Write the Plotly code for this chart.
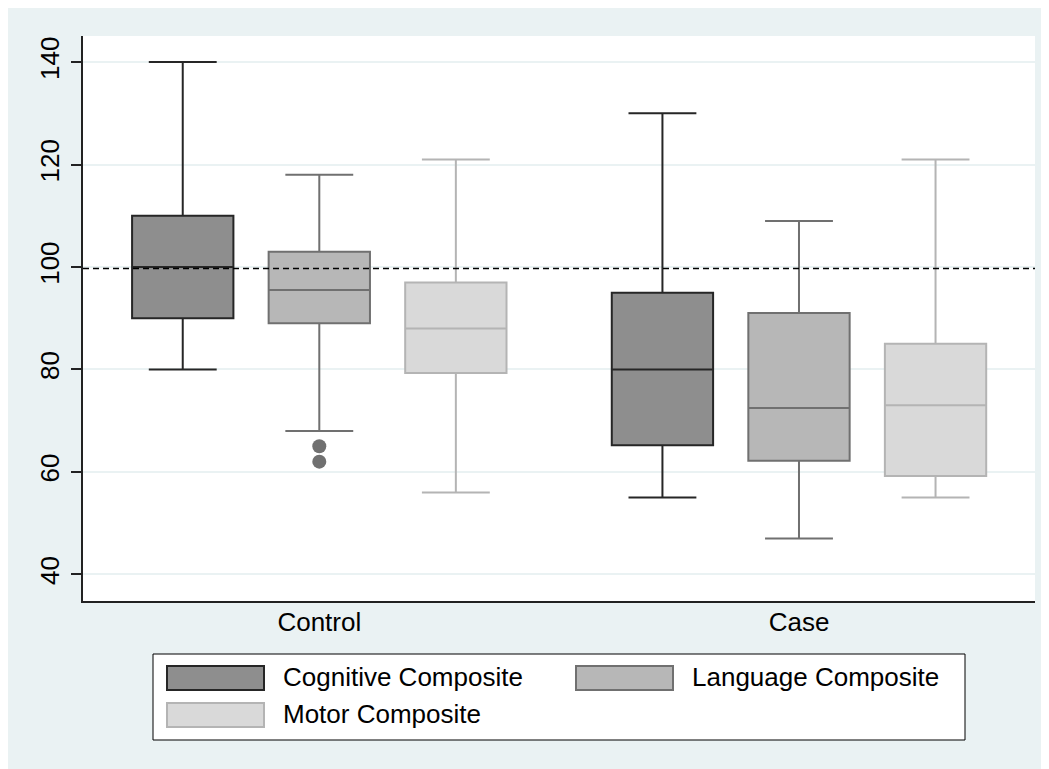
import plotly.graph_objects as go

# ---- data ----
groups = ["Control", "Case"]
series = ["Cognitive Composite", "Language Composite", "Motor Composite"]
q1 = {"Cognitive Composite": [90, 65.2], "Language Composite": [89, 62.2], "Motor Composite": [79.3, 59.2]}
median = {"Cognitive Composite": [100, 80], "Language Composite": [95.5, 72.5], "Motor Composite": [88, 73]}
q3 = {"Cognitive Composite": [110, 95], "Language Composite": [103, 91], "Motor Composite": [97, 85]}
lowerfence = {"Cognitive Composite": [80, 55], "Language Composite": [68, 47], "Motor Composite": [56, 55]}
upperfence = {"Cognitive Composite": [140, 130], "Language Composite": [118, 109], "Motor Composite": [121, 121]}
outlier_group = ["Control", "Control"]
outlier_values = [65, 62]
reference_value = 99.7
y_ticks = [40, 60, 80, 100, 120, 140]

# ---- styles ----
fills = {"Cognitive Composite": "#8E8E8E", "Language Composite": "#B7B7B7", "Motor Composite": "#D9D9D9"}
lines = {"Cognitive Composite": "#262626", "Language Composite": "#707070", "Motor Composite": "#B4B4B4"}
BG = "#EAF2F3"
FONT = "Liberation Sans, Arial, sans-serif"

OFF = 8  # page body margin
W, H = 1041, 761
# plot area in page pixels
L, R, T, B = 83, 1035, 36, 601


def px_x(p):
    return (p - L) / (R - L)


def px_y(p):
    return (B - p) / (B - T)


fig = go.Figure()
for s in series:
    fig.add_trace(go.Box(
        x=groups, q1=q1[s], median=median[s], q3=q3[s],
        lowerfence=lowerfence[s], upperfence=upperfence[s],
        name=s, fillcolor=fills[s], line=dict(color=lines[s], width=2),
        whiskerwidth=0.67, boxpoints=False, showlegend=False,
    ))

fig.add_trace(go.Scatter(
    x=outlier_group, y=outlier_values, mode="markers",
    marker=dict(color="#707070", size=14), showlegend=False, hoverinfo="y",
))

shapes = [
    dict(type="rect", xref="paper", yref="paper", x0=0, x1=1, y0=0, y1=1,
         fillcolor="white", line=dict(width=0), layer="below"),
    dict(type="line", xref="paper", yref="y", x0=0, x1=1, y0=reference_value, y1=reference_value,
         line=dict(color="black", width=1.5, dash="6px,4px"), layer="above"),
    # legend frame
    dict(type="rect", xref="paper", yref="paper", x0=px_x(153), x1=px_x(965), y0=px_y(740), y1=px_y(654),
         fillcolor="white", line=dict(color="black", width=1)),
]

annotations = []
legend_slots = [(166, 665), (575, 665), (166, 702)]
for s, (sx, sy) in zip(series, legend_slots):
    shapes.append(dict(type="rect", xref="paper", yref="paper", x0=px_x(sx + 1), x1=px_x(sx + 98),
                       y0=px_y(sy + 25), y1=px_y(sy + 1), fillcolor=fills[s],
                       line=dict(color=lines[s], width=2)))
    annotations.append(dict(xref="paper", yref="paper", x=px_x(sx + 115), y=px_y(sy + 12),
                            text=s, showarrow=False, xanchor="left", yanchor="middle",
                            font=dict(family=FONT, size=26, color="black")))

fig.update_layout(
    width=W, height=H,
    margin=dict(l=L - OFF, r=W - (R - OFF), t=T - OFF, b=H - (B - OFF), pad=0),
    paper_bgcolor=BG, plot_bgcolor="white",
    boxmode="group", boxgap=0.146, boxgroupgap=0.258,
    font=dict(family=FONT, size=26, color="black"),
    shapes=shapes, annotations=annotations,
    showlegend=False,
)
fig.update_xaxes(
    type="category", range=[-0.4926, 1.492], showline=True, linecolor="#222222", linewidth=1.5,
    ticks="", showgrid=False, zeroline=False, tickfont=dict(size=26), ticklabelstandoff=-3,
)
fig.update_yaxes(
    range=[34.8, 145.1], tickvals=y_ticks, tickangle=-90, showline=True, linecolor="#222222",
    linewidth=1.5, ticks="outside", ticklen=10, tickwidth=1.5, tickcolor="#222222",
    showgrid=True, gridcolor=BG, gridwidth=1.5, zeroline=False, tickfont=dict(size=26),
    ticklabelstandoff=2,
)

fig.write_html("out.html")
